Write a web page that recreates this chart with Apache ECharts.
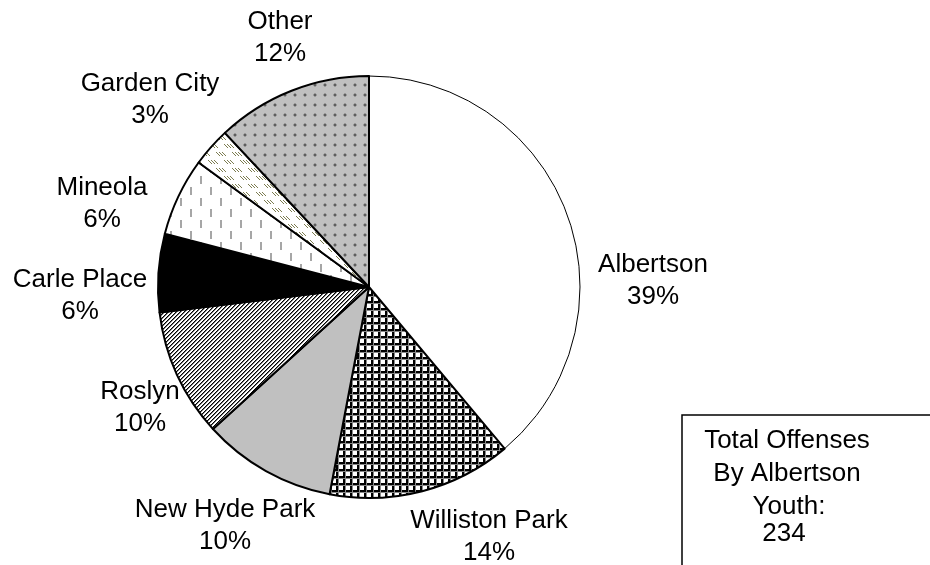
<!DOCTYPE html>
<html>
<head>
<meta charset="utf-8">
<script src="https://cdn.jsdelivr.net/npm/echarts@6/dist/echarts.min.js"></script>
<style>
html,body{margin:0;padding:0;background:#fff;}
#chart{width:930px;height:565px;}
</style>
</head>
<body>
<div id="chart"></div>
<script>
// ---- data ----
const categories = ['Albertson', 'Williston Park', 'New Hyde Park', 'Roslyn', 'Carle Place', 'Mineola', 'Garden City', 'Other'];
const offenses = [91, 33, 24, 23, 14, 14, 7, 28];
const boxLines = ['Total Offenses', 'By Albertson', 'Youth:'];

// ---- label placement (centres of each two-line label) ----
const labelPos = [[653, 281], [489, 537], [225, 526], [140, 408], [80, 296], [102, 204], [150, 100], [280, 38]];

// ---- fill patterns ----
function tile(w, h, bg, draw) {
  const c = document.createElement('canvas');
  c.width = w; c.height = h;
  const g = c.getContext('2d');
  g.fillStyle = bg; g.fillRect(0, 0, w, h);
  draw(g);
  return c;
}
const grid = tile(7, 7, '#ffffff', g => {
  g.fillStyle = '#000'; g.fillRect(0, 0, 7, 2); g.fillRect(0, 0, 2, 7);
  g.fillStyle = '#888'; g.fillRect(0, 2, 7, 1); g.fillRect(2, 0, 1, 7);
  g.fillStyle = '#000'; g.fillRect(0, 0, 2, 2);
});
const diag = tile(4, 4, '#ffffff', g => {
  g.fillStyle = '#000';
  for (let y = 0; y < 4; y++) {
    g.fillRect((3 - y + 4) % 4, y, 1, 1);
  }
  g.fillStyle = '#777';
  for (let y = 0; y < 4; y++) {
    g.fillRect((4 - y + 4) % 4, y, 1, 1);
  }
});
const dashes = tile(20, 22, '#ffffff', g => {
  g.fillStyle = '#a6a6a6';
  g.fillRect(0, 0, 2, 8); g.fillRect(10, 11, 2, 8);
});
const olive = tile(16, 16, '#ffffff', g => {
  g.fillStyle = '#7c7c50';
  for (let k = 0; k < 3; k++) {
    for (let i = 0; i < 4; i++) g.fillRect(k * 3 + i, i, 1, 1);
  }
  for (let k = 0; k < 3; k++) {
    for (let i = 0; i < 4; i++) g.fillRect((8 + k * 3 + i) % 16, 8 + i, 1, 1);
  }
});
const dots = tile(10, 10, '#c0c0c0', g => {
  g.fillStyle = '#9a9a9a'; g.fillRect(4, 3, 2, 4); g.fillRect(3, 4, 4, 2);
  g.fillStyle = '#5e5e5e'; g.fillRect(4, 4, 2, 2);
});
const fills = [
  '#ffffff',
  {image: grid, repeat: 'repeat'},
  '#c0c0c0',
  {image: diag, repeat: 'repeat'},
  '#000000',
  {image: dashes, repeat: 'repeat'},
  {image: olive, repeat: 'repeat'},
  {image: dots, repeat: 'repeat'}
];
const borderW = [1, 2, 2, 2, 2, 2, 2, 2];

const total = offenses.reduce((a, b) => a + b, 0);
const FONT = '"Liberation Sans", Arial, sans-serif';

const chart = echarts.init(document.getElementById('chart'), null, {renderer: 'canvas'});
chart.setOption({
  animation: false,
  backgroundColor: '#ffffff',
  series: [{
    type: 'pie',
    center: [369, 287],
    radius: [0, 211],
    startAngle: 90,
    clockwise: true,
    percentPrecision: 0,
    silent: true,
    data: categories.map((name, i) => ({
      name: name,
      value: offenses[i],
      itemStyle: {color: fills[i], borderColor: '#000', borderWidth: borderW[i]}
    })),
    label: {
      show: true,
      position: 'outside',
      formatter: '{b}\n{d}%',
      fontFamily: FONT,
      fontSize: 26,
      lineHeight: 32,
      color: '#000',
      align: 'center',
      overflow: 'none'
    },
    labelLine: {show: false},
    labelLayout: function (p) {
      const pos = labelPos[p.dataIndex];
      return {x: pos[0], y: pos[1], align: 'center', verticalAlign: 'middle', width: 220};
    },
    emphasis: {disabled: true}
  }],
  graphic: [
    {type: 'rect', shape: {x: 682, y: 415, width: 300, height: 200},
     style: {fill: '#fff', stroke: '#000', lineWidth: 1.5}, z: 10},
    {type: 'text', x: 787, y: 441, z: 11,
     style: {text: boxLines[0], fontFamily: FONT, fontSize: 26, fill: '#000', textAlign: 'center', textVerticalAlign: 'middle'}},
    {type: 'text', x: 787, y: 474, z: 11,
     style: {text: boxLines[1], fontFamily: FONT, fontSize: 26, fill: '#000', textAlign: 'center', textVerticalAlign: 'middle'}},
    {type: 'text', x: 789, y: 507, z: 11,
     style: {text: boxLines[2], fontFamily: FONT, fontSize: 26, fill: '#000', textAlign: 'center', textVerticalAlign: 'middle'}},
    {type: 'text', x: 784, y: 534, z: 11,
     style: {text: String(total), fontFamily: FONT, fontSize: 26, fill: '#000', textAlign: 'center', textVerticalAlign: 'middle'}}
  ]
});
</script>
</body>
</html>
